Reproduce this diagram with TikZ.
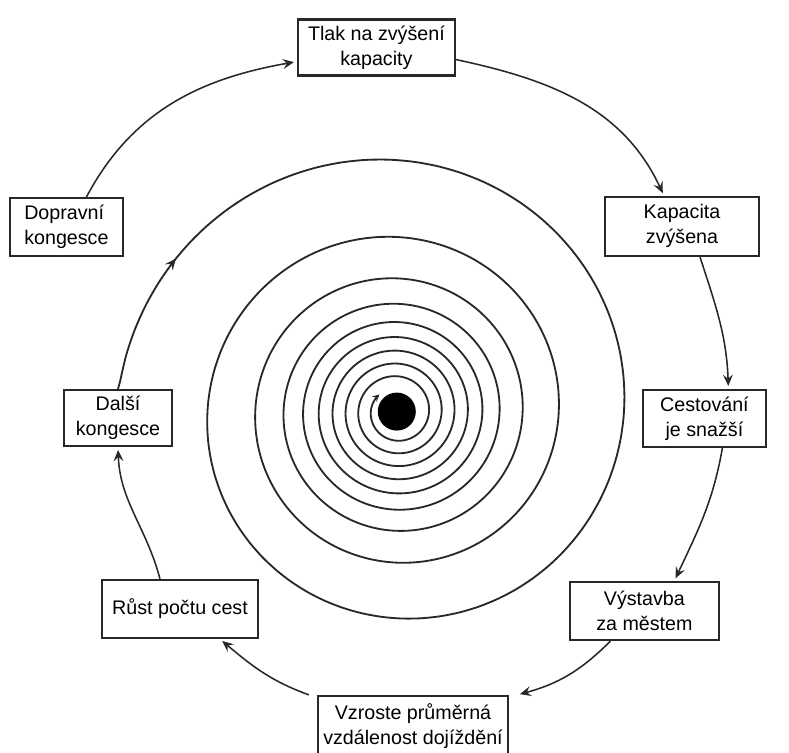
\documentclass[tikz,border=0pt]{standalone}
\usepackage{fontspec}
\setmainfont{Liberation Sans}
\usepackage{tikz}
\usetikzlibrary{arrows.meta, decorations.markings}
\definecolor{inkgray}{RGB}{40, 40, 40}

\begin{document}
\begin{tikzpicture}[
    box/.style={draw=inkgray, line width=1.6pt, align=center, inner sep=2pt,
                font=\fontsize{14}{17.8}\selectfont},
    arrow/.style={-{Stealth[length=8pt, width=7pt, inset=3pt]}, line width=1.1pt,
                  inkgray, shorten >=2pt},
    spiral/.style={line width=1.3pt, inkgray},
    declare function={sr(\q)=0.65+0.0775*\q+0.002675*(exp(0.2*\q)-1);},
  ]
    \useasboundingbox (0,0) rectangle (19.725,18.8);

    % Outer cycle boxes
    \node[box, minimum width=3.925cm, minimum height=1.4cm] (tlak) at (9.41,17.61)
      {Tlak na zvýšení\\kapacity};
    \node[box, align=left, minimum width=2.825cm, minimum height=1.45cm] (doprav) at (1.66,13.12)
      {Dopravní\\kongesce};
    \node[box, minimum width=3.85cm, minimum height=1.475cm] (kapac) at (17.05,13.14)
      {Kapacita\\zvýšena};
    \node[box, minimum width=3.075cm, minimum height=1.425cm] (cest) at (17.61,8.34)
      {Cestování\\je snažší};
    \node[box, minimum width=2.7cm, minimum height=1.4cm] (dalsi) at (2.95,8.35)
      {Další\\kongesce};
    \node[box, minimum width=3.9cm, minimum height=1.45cm] (rust) at (4.5,3.575)
      {Růst počtu cest};
    \node[box, minimum width=3.725cm, minimum height=1.45cm] (vystav) at (16.11,3.525)
      {Výstavba\\za městem};
    \node[box, minimum width=4.75cm, minimum height=1.5cm] (vzrost) at (10.325,0.65)
      {Vzroste průměrná\\vzdálenost dojíždění};

    % Outer cycle arrows
    \draw[arrow] ([xshift=0.5cm]doprav.north) to[out=62, in=190] ([yshift=-0.35cm]tlak.west);
    \draw[arrow] ([yshift=-0.3cm]tlak.east) to[out=-12, in=115] ([xshift=-0.45cm]kapac.north);
    \draw[arrow] ([xshift=0.45cm]kapac.south) to[out=-72, in=92] ([xshift=0.6cm]cest.north);
    \draw[arrow] ([xshift=0.45cm]cest.south) to[out=-100, in=65] ([xshift=0.75cm]vystav.north);
    \draw[arrow] ([xshift=-0.85cm]vystav.south) to[out=-135, in=15] ([xshift=0.2cm]vzrost.north east);
    \draw[arrow] ([xshift=-0.2cm]vzrost.north west) to[out=160, in=-40] ([xshift=1cm]rust.south);
    \draw[arrow] ([xshift=-0.5cm]rust.north) to[out=105, in=-88] (dalsi.south);

    % Spiral into the centre
    \node[circle, fill=black, minimum size=0.95cm, inner sep=0pt] (hub) at (9.92,8.51) {};
    \begin{scope}[shift={(hub)}]
      \draw[spiral, -{Stealth[length=5pt, width=5pt, inset=2pt]},
            postaction={decorate, decoration={markings,
              mark=at position 3.6cm with {\arrow{Stealth[length=8pt, width=7pt, inset=3pt]}}}}]
        (dalsi.north) -- plot[smooth, samples=600, variable=\t, domain=0:36.43]
        ({180+90*(35.93-\t)}:{sr(35.93-\t)});
    \end{scope}
\end{tikzpicture}
\end{document}
